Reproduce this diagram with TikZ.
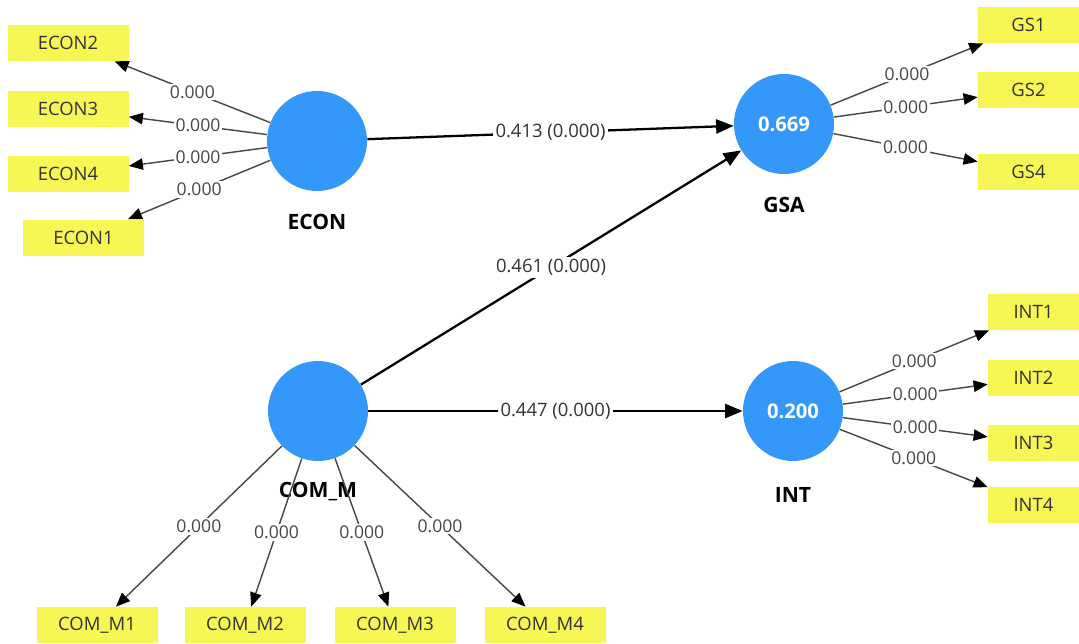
\documentclass[tikz,border=0pt]{standalone}
\usepackage{fontspec}
\setmainfont{Open Sans}
\usepackage{tikz}
\usetikzlibrary{positioning, arrows.meta, calc}
\definecolor{lvcolor}{RGB}{52,152,250}
\definecolor{mvcolor}{RGB}{246,246,84}
\definecolor{loadcolor}{RGB}{70,70,70}

\begin{document}
\begin{tikzpicture}[
    latent/.style={circle, fill=lvcolor, minimum size=2cm, inner sep=0pt, text=white, font=\fontsize{11.5}{13}\selectfont\bfseries},
    indicator/.style={rectangle, fill=mvcolor, minimum width=2.42cm, minimum height=0.72cm, inner sep=0pt, text=black!80, font=\fontsize{10.5}{12}\selectfont},
    lvname/.style={font=\fontsize{12}{14}\selectfont\bfseries, inner sep=0pt},
    pathline/.style={-{Triangle[length=10pt, width=8pt]}, line width=1.3pt},
    loading/.style={-{Triangle[length=8pt, width=6.5pt, color=black]}, line width=0.8pt, draw=loadcolor},
    coef/.style={fill=white, inner sep=1.5pt, font=\fontsize{10.5}{12}\selectfont, text=black!80},
    weight/.style={fill=white, inner sep=1pt, font=\fontsize{10}{12}\selectfont, text=loadcolor},
]

% Frame
\fill[white] (0,0) rectangle (21.58,12.86);
\useasboundingbox (0,0) rectangle (21.58,12.86);

% Latent variables
\node[latent] (econ) at (6.34, 10.04) {};
\node[latent] (gsa) at (15.68, 10.38) {0.669};
\node[latent] (comm) at (6.36, 4.64) {};
\node[latent] (int) at (15.86, 4.64) {0.200};

\node[lvname] (econname) at ($(econ) + (0, -1.62)$) {ECON};
\node[lvname] (gsaname) at ($(gsa) + (0, -1.62)$) {GSA};
\node[lvname] (commname) at ($(comm) + (0, -1.62)$) {COM\_M};
\node[lvname] (intname) at ($(int) + (0, -1.68)$) {INT};

% ECON indicators
\node[indicator] (econ2) at (1.36, 12.0) {ECON2};
\node[indicator] (econ3) at (1.36, 10.68) {ECON3};
\node[indicator] (econ4) at (1.36, 9.38) {ECON4};
\node[indicator] (econ1) at (1.67, 8.11) {ECON1};

% GSA indicators
\node[indicator, minimum width=2.02cm] (gs1) at (20.57, 12.36) {GS1};
\node[indicator, minimum width=2.02cm] (gs2) at (20.57, 11.06) {GS2};
\node[indicator, minimum width=2.02cm] (gs4) at (20.57, 9.43) {GS4};

% INT indicators
\node[indicator, minimum width=1.82cm] (int1) at (20.67, 6.62) {INT1};
\node[indicator, minimum width=1.82cm] (int2) at (20.67, 5.30) {INT2};
\node[indicator, minimum width=1.82cm] (int3) at (20.67, 4.00) {INT3};
\node[indicator, minimum width=1.82cm] (int4) at (20.67, 2.76) {INT4};

% COM_M indicators
\node[indicator] (comm1) at (1.94, 0.36) {COM\_M1};
\node[indicator] (comm2) at (4.90, 0.36) {COM\_M2};
\node[indicator] (comm3) at (7.90, 0.36) {COM\_M3};
\node[indicator] (comm4) at (10.90, 0.36) {COM\_M4};

% Structural paths
\draw[pathline] (econ) -- node[coef] {0.413 (0.000)} (gsa);
\draw[pathline] (comm) -- node[coef] {0.461 (0.000)} (gsa);
\draw[pathline] (comm) -- node[coef] {0.447 (0.000)} (int);

% Loadings
\draw[loading] (econ) -- node[weight] {0.000} (econ2);
\draw[loading] (econ) -- node[weight] {0.000} (econ3);
\draw[loading] (econ) -- node[weight] {0.000} (econ4);
\draw[loading] (econ) -- node[weight] {0.000} (econ1);

\draw[loading] (gsa) -- node[weight] {0.000} (gs1);
\draw[loading] (gsa) -- node[weight] {0.000} (gs2);
\draw[loading] (gsa) -- node[weight] {0.000} (gs4);

\draw[loading] (int) -- node[weight] {0.000} (int1);
\draw[loading] (int) -- node[weight] {0.000} (int2);
\draw[loading] (int) -- node[weight] {0.000} (int3);
\draw[loading] (int) -- node[weight] {0.000} (int4);

\draw[loading] (comm) -- node[weight] {0.000} (comm1);
\draw[loading] (comm) -- node[weight] {0.000} (comm2);
\draw[loading] (comm) -- node[weight] {0.000} (comm3);
\draw[loading] (comm) -- node[weight] {0.000} (comm4);

\end{tikzpicture}
\end{document}
